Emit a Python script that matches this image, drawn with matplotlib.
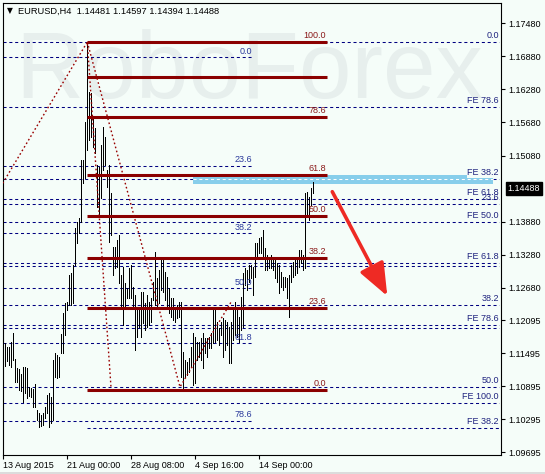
import numpy as np
import matplotlib.pyplot as plt
from matplotlib.patches import Rectangle, FancyArrowPatch

plt.rcParams['font.family'] = ['Liberation Sans', 'DejaVu Sans']
plt.rcParams['lines.scale_dashes'] = False

# H4 bars, 13 Aug 2015 .. 18 Sep 2015 (high / low)
bar_high = [1.11497, 1.11678, 1.11606, 1.11606, 1.11697, 1.11860, 1.11388, 1.11225, 1.11207, 1.11116,
            1.11243, 1.11243, 1.11225, 1.10880, 1.10862, 1.10844, 1.10934, 1.10463, 1.10408, 1.10372,
            1.10408, 1.10517, 1.10735, 1.10771, 1.10699, 1.11370, 1.11497, 1.11461, 1.11424, 1.11842,
            1.12223, 1.12404, 1.12422, 1.12912, 1.12949, 1.13094, 1.13765, 1.13874, 1.13947, 1.14999,
            1.14999, 1.15689, 1.17141, 1.16233, 1.16215, 1.15780, 1.15580, 1.14909, 1.14872, 1.15272,
            1.15598, 1.15417, 1.14818, 1.14909, 1.14400, 1.13421, 1.13421, 1.13548, 1.13638, 1.12912,
            1.13058, 1.12767, 1.12677, 1.13040, 1.13094, 1.12695, 1.12550, 1.12277, 1.12277, 1.12604,
            1.12604, 1.12404, 1.12550, 1.12422, 1.12495, 1.12785, 1.13330, 1.12858, 1.13003, 1.13221,
            1.13203, 1.12967, 1.12876, 1.12677, 1.12495, 1.12495, 1.12332, 1.12368, 1.12422, 1.12422,
            1.11515, 1.11370, 1.11334, 1.11406, 1.11606, 1.11860, 1.11787, 1.11697, 1.11697, 1.11769,
            1.11860, 1.11769, 1.11769, 1.11787, 1.11860, 1.12277, 1.12314, 1.12060, 1.11951, 1.12060,
            1.12132, 1.12096, 1.12060, 1.11969, 1.12060, 1.12332, 1.12422, 1.12277, 1.12150, 1.12513,
            1.12949, 1.13040, 1.13003, 1.13094, 1.13094, 1.13058, 1.13493, 1.13493, 1.13584, 1.13602,
            1.13729, 1.13402, 1.13275, 1.13239, 1.13275, 1.13239, 1.13185, 1.13130, 1.13094, 1.12967,
            1.12876, 1.12876, 1.12858, 1.12912, 1.13094, 1.13148, 1.13185, 1.13239, 1.13366, 1.13366,
            1.13275, 1.14400, 1.14419, 1.14328, 1.14491, 1.14597]
bar_low = [1.10898, 1.11261, 1.11352, 1.11279, 1.11243, 1.11370, 1.10971, 1.10971, 1.10826, 1.10807,
           1.10608, 1.10771, 1.10680, 1.10717, 1.10699, 1.10517, 1.10517, 1.10281, 1.10154, 1.10172,
           1.10190, 1.10317, 1.10408, 1.10154, 1.10227, 1.10281, 1.11061, 1.11043, 1.11061, 1.11497,
           1.11497, 1.11824, 1.12277, 1.12368, 1.12368, 1.12404, 1.13094, 1.13493, 1.13675, 1.13874,
           1.14582, 1.14673, 1.15181, 1.15362, 1.15417, 1.15235, 1.15126, 1.14146, 1.13965, 1.14310,
           1.14818, 1.14909, 1.14509, 1.13511, 1.13638, 1.12912, 1.13040, 1.13058, 1.12767, 1.12332,
           1.12005, 1.12332, 1.12495, 1.12495, 1.12495, 1.12314, 1.11551, 1.11787, 1.11969, 1.11787,
           1.12041, 1.11914, 1.11969, 1.12005, 1.12060, 1.12459, 1.12368, 1.12332, 1.12404, 1.12640,
           1.12604, 1.12459, 1.12332, 1.12223, 1.12150, 1.12096, 1.12060, 1.12132, 1.12150, 1.11061,
           1.10844, 1.11061, 1.11098, 1.11152, 1.11243, 1.10916, 1.10953, 1.11370, 1.11424, 1.11370,
           1.11225, 1.11497, 1.11424, 1.11588, 1.11588, 1.11678, 1.11697, 1.11733, 1.11642, 1.11824,
           1.11424, 1.11551, 1.11642, 1.11316, 1.11316, 1.11733, 1.11824, 1.11787, 1.11697, 1.11914,
           1.11969, 1.12731, 1.12640, 1.12785, 1.12858, 1.12550, 1.12876, 1.13221, 1.13312, 1.13312,
           1.13239, 1.13003, 1.13003, 1.13040, 1.13040, 1.13003, 1.12858, 1.12785, 1.12586, 1.12695,
           1.12640, 1.12695, 1.12495, 1.12150, 1.12785, 1.12876, 1.12912, 1.12949, 1.13058, 1.13130,
           1.13003, 1.13040, 1.13965, 1.13910, 1.14183, 1.14394]

date_ticks = [0, 32, 64, 96, 128]
date_labels = ['13 Aug 2015', '21 Aug 00:00', '28 Aug 08:00', '4 Sep 16:00', '14 Sep 00:00']
price_ticks = [1.17480, 1.16880, 1.16280, 1.15680, 1.15080, 1.13880, 1.13280,
               1.12680, 1.12095, 1.11495, 1.10895, 1.10295, 1.09695]
last_price = 1.14488

# fibo retracement (solid dark red)
fibo_levels = [1.17141, 1.16506, 1.15785, 1.14733, 1.13983, 1.13226, 1.12314, 1.10831]
fibo_labels = ['100.0', '', '78.6', '61.8', '50.0', '38.2', '23.6', '0.0']
# short dashed retracement (left part)
mid_levels = [1.16863, 1.14890, 1.13669, 1.12671, 1.11673, 1.10268]
mid_labels = ['0.0', '23.6', '38.2', '50.0', '61.8', '78.6']
# long dashed levels with labels at right
right_levels = [1.17135, 1.15967, 1.14649, 1.14286, 1.14201, 1.13874, 1.13125, 1.13081,
                1.12368, 1.12005, 1.11956, 1.10875, 1.10584, 1.10131]
right_labels = ['0.0', 'FE 78.6', 'FE 38.2', 'FE 61.8', '23.6', 'FE 50.0', 'FE 61.8', '',
                '38.2', 'FE 78.6', '', '50.0', 'FE 100.0', 'FE 38.2']
right_start = [-0.3] * 13 + [42]

# zigzag (dotted) lines
zz_x = [[-0.3, 42, 53.85], [42, 88.35, 114.35]]
zz_y = [[1.14577, 1.17141, 1.10875], [1.17141, 1.10880, 1.12450]]

# target zone and arrow
zone_x = [95, 244.7]
zone_y = [1.14560, 1.14723]
arrow_from = (164.5, 1.14424)
arrow_to = (192, 1.12531)

bg = '#F5FDF9'
navy = '#000080'
dark_red = '#8B0000'

fig = plt.figure(figsize=(5.45, 4.74), dpi=100)
fig.patch.set_facecolor(bg)
ax = fig.add_axes([2.7 / 545, 19 / 474, 498.6 / 545, 452.3 / 474])
ax.set_facecolor(bg)
ax.set_xlim(-0.3, 249)
ax.set_ylim(1.09646, 1.17854)

# watermark
ax.text(0.025, 0.79, 'RoboForex', transform=ax.transAxes, fontsize=68,
        color='#E7EFED', ha='left', va='baseline', zorder=0)

dash = (0, (2.2, 2.0))
ax.hlines(mid_levels, -0.3, 124.35, colors=navy, linestyles=[dash], lw=0.75, zorder=1)
ax.hlines(right_levels, right_start, 247.85, colors=navy, linestyles=[dash], lw=0.75, zorder=1)

ax.add_patch(Rectangle((zone_x[0], zone_y[0]), zone_x[1] - zone_x[0], zone_y[1] - zone_y[0],
                       facecolor='#87CEEB', edgecolor='none', zorder=2))
ax.hlines(right_levels[2], zone_x[0], zone_x[1], colors='white', linestyles=[dash], lw=0.75, zorder=2.5)

idx = np.arange(len(bar_high))
ax.vlines(idx, bar_low, bar_high, colors='black', lw=0.68, antialiased=False, zorder=3)

ax.hlines(fibo_levels, 42, 161.7, colors=dark_red, lw=2.2, zorder=4)
for xs, ys in zip(zz_x, zz_y):
    ax.plot(xs, ys, color='#990000', lw=1.0, linestyle=(0, (1.2, 1.8)), zorder=4)

fs = 6.5
for p, lab in zip(fibo_levels, fibo_labels):
    ax.annotate(lab, (161.5, p), xytext=(0, 1.2), textcoords='offset points',
                ha='right', va='bottom', color='#8B1A1A', fontsize=fs, zorder=5)
for p, lab in zip(mid_levels, mid_labels):
    ax.annotate(lab, (124.3, p), xytext=(0, 1.2), textcoords='offset points',
                ha='right', va='bottom', color='#2B3A9C', fontsize=fs, zorder=5)
for p, lab in zip(right_levels, right_labels):
    box = None
    if lab == 'FE 38.2' and p > 1.12:
        box = dict(facecolor=bg, edgecolor='none', pad=0.6)
    ax.annotate(lab, (247.8, p), xytext=(0, 1.5), textcoords='offset points',
                ha='right', va='bottom', color='#1F237F', fontsize=fs, zorder=5, bbox=box)

arr = FancyArrowPatch(arrow_from, arrow_to, arrowstyle='-|>,head_length=2.0,head_width=0.8',
                      mutation_scale=10, lw=2.6, color='#EE2A24', shrinkA=0, shrinkB=0, zorder=6)
ax.add_patch(arr)

# axes
for s in ax.spines.values():
    s.set_color('black')
    s.set_linewidth(0.8)
ax.yaxis.tick_right()
ax.set_yticks(price_ticks)
ax.set_yticklabels(['%.5f' % v for v in price_ticks])
ax.set_xticks(date_ticks)
ax.set_xticklabels(date_labels)
ax.tick_params(axis='y', direction='out', length=3, width=0.8, pad=2, labelsize=fs, colors='black')
ax.tick_params(axis='x', direction='out', length=3, width=0.8, pad=1.5, labelsize=fs, colors='black')
for lab in ax.get_xticklabels():
    lab.set_horizontalalignment('left')

ax.annotate('%.5f' % last_price, (1.0, last_price), xycoords=ax.get_yaxis_transform(),
            xytext=(4.5, 0), textcoords='offset points', ha='left', va='center',
            color='white', fontsize=fs, annotation_clip=False,
            bbox=dict(facecolor='black', edgecolor='black', pad=1.4))

fig.text(7 / 545, 1 - 11 / 474, '\u25bc', fontsize=5.5, ha='left', va='center',
         family='DejaVu Sans', color='black')
fig.text(18 / 545, 1 - 11 / 474, 'EURUSD,H4  1.14481 1.14597 1.14394 1.14488',
         fontsize=6.7, ha='left', va='center', color='black')

fig.add_artist(Rectangle((0, 0), 1, 2.5 / 474, transform=fig.transFigure,
                         facecolor='#DCDCDC', edgecolor='none'))

fig.savefig('out.png', dpi=100, facecolor=bg)
